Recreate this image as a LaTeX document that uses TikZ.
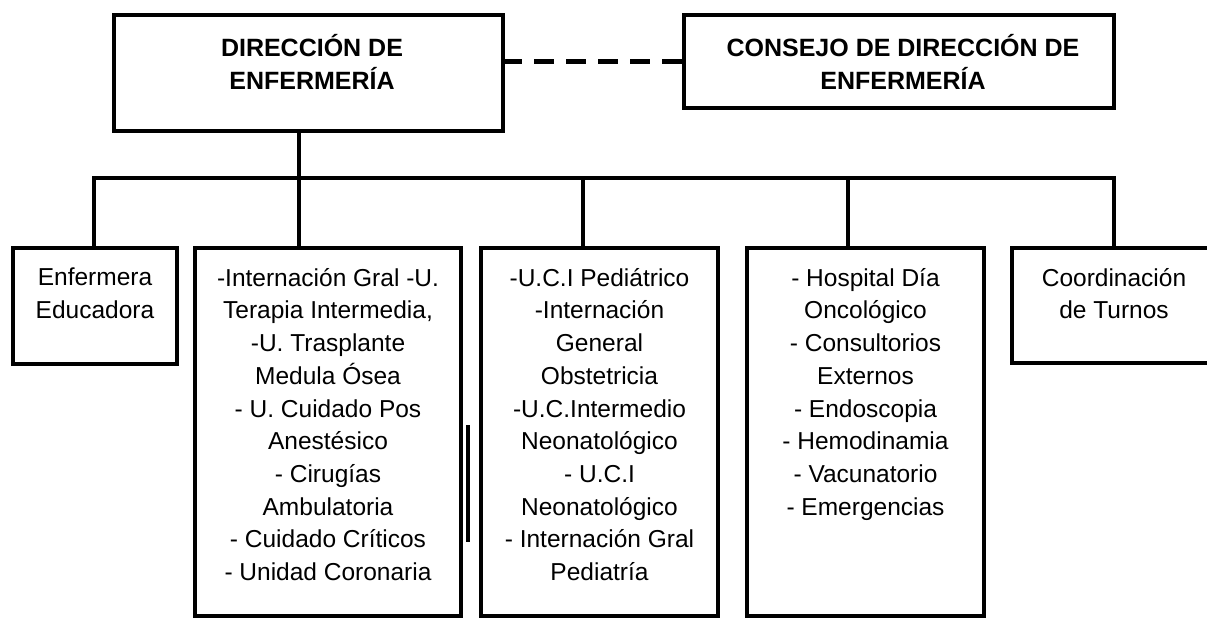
\documentclass[tikz,border=0pt]{standalone}
\usepackage{fontspec}
\setmainfont{Liberation Sans}
\begin{document}
\begin{tikzpicture}[x=1pt,y=-1pt,
  box/.style={draw=black,line width=4.5pt,inner sep=0pt,fill=white},
  conn/.style={draw=black,line width=4pt},
  dashconn/.style={draw=black,line width=5pt,dash pattern=on 20pt off 12pt},
  ttl/.style={font=\fontsize{25}{33}\selectfont\bfseries,align=center,inner sep=0pt,text=black},
  body/.style={font=\fontsize{24.5}{32.7}\selectfont,align=center,inner sep=0pt,anchor=north,text=black}]
\useasboundingbox (0,0) rectangle (1207,618);
\clip (0,0) rectangle (1207,618);
\fill[white] (0,0) rectangle (1207,618);
% top boxes
\node[box,minimum width=389pt,minimum height=116pt] (top) at (308.5,73) {};
\node[box,minimum width=430pt,minimum height=93pt] (cons) at (899,61.5) {};
\node[ttl] (ttop) at (312,61.5) {DIRECCIÓN DE\\ENFERMERÍA};
\node[ttl] (tcons) at (903,61.5) {CONSEJO DE DIRECCIÓN DE\\ENFERMERÍA};
% lower boxes
\node[box,minimum width=164pt,minimum height=116pt] (b1) at (95,306) {};
\node[box,minimum width=266pt,minimum height=368pt] (b2) at (328,432) {};
\node[box,minimum width=237pt,minimum height=368pt] (b3) at (599.5,432) {};
\node[box,minimum width=237pt,minimum height=368pt] (b4) at (865.5,432) {};
\node[box,minimum width=204pt,minimum height=115pt] (b5) at (1114,305.5) {};
\node[body] (t1) at (95,268) {Enfermera\\Educadora};
\node[body] (t2) at (328,268) {-Internación Gral -U.\\Terapia Intermedia,\\-U. Trasplante\\Medula Ósea\\- U. Cuidado Pos\\Anestésico\\- Cirugías\\Ambulatoria\\- Cuidado Críticos\\- Unidad Coronaria};
\node[body] (t3) at (599.5,268) {-U.C.I Pediátrico\\-Internación\\General\\Obstetricia\\-U.C.Intermedio\\Neonatológico\\- U.C.I\\Neonatológico\\- Internación Gral\\Pediatría};
\node[body] (t4) at (865.5,268) {- Hospital Día\\Oncológico\\- Consultorios\\Externos\\- Endoscopia\\- Hemodinamia\\- Vacunatorio\\- Emergencias};
\node[body] (t5) at (1114,268) {Coordinación\\de Turnos};
% bar coordinates
\coordinate (d1) at (94,178);
\coordinate (d2) at (299,178);
\coordinate (d3) at (583,178);
\coordinate (d4) at (848,178);
\coordinate (d5) at (1114,178);
% connectors
\draw[dashconn] (cons.west) -- (cons.west -| top.east);
\draw[conn] (top.south -| d2) -- (d2);
\draw[conn,line cap=rect] (d1) -- (d5);
\draw[conn] (d1) -- (d1 |- b1.north);
\draw[conn] (d2) -- (d2 |- b2.north);
\draw[conn] (d3) -- (d3 |- b3.north);
\draw[conn] (d4) -- (d4 |- b4.north);
\draw[conn] (d5) -- (d5 |- b5.north);
% stray vertical mark
\draw[line width=4pt] (468,425) -- (468,542);
\end{tikzpicture}
\end{document}
